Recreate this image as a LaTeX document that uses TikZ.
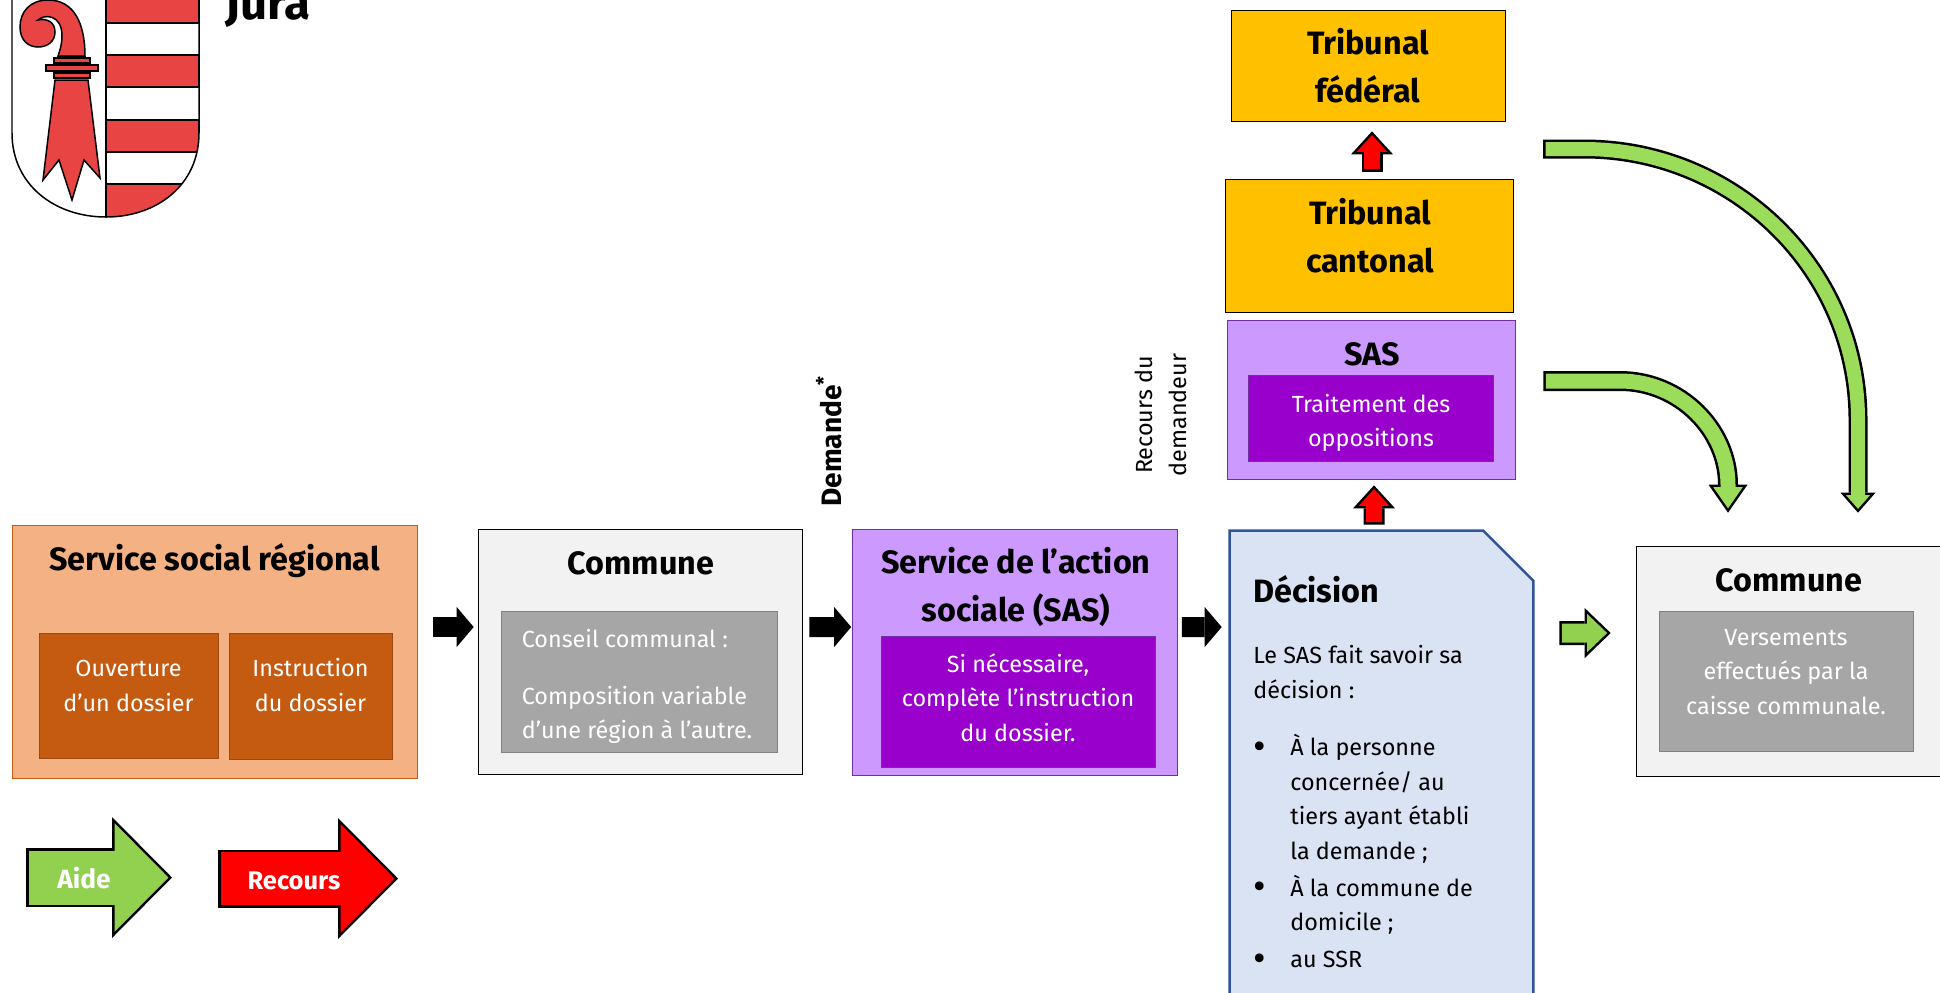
\documentclass[tikz,border=0pt]{standalone}
\usepackage{fontspec}
\setmainfont{Fira Sans}
\usetikzlibrary{arrows.meta}
\usetikzlibrary{positioning}
\definecolor{ssrfill}{HTML}{F4B183}
\definecolor{ssrdark}{HTML}{C55A11}
\definecolor{ssrline}{HTML}{9E480E}
\definecolor{sasfill}{HTML}{CC99FF}
\definecolor{sasdark}{HTML}{9900CC}
\definecolor{sasline}{HTML}{7030A0}
\definecolor{decfill}{HTML}{DAE3F3}
\definecolor{decline}{HTML}{2F5597}
\definecolor{courtfill}{HTML}{FFC000}
\definecolor{aidefill}{HTML}{92D050}
\definecolor{bendfill}{HTML}{9BDC5A}
\definecolor{juraring}{HTML}{E94444}
\providecommand{\bodysize}{\fontsize{13.3}{19.65}\selectfont}
\providecommand{\headsize}{\fontsize{18.4}{27.3}\selectfont\bfseries}
\providecommand{\listdot}{\makebox[0.74cm][l]{\raisebox{-0.07cm}{\fontsize{22}{19}\selectfont\textbullet}}}
\providecommand{\apos}{\char39 }
% block arrow: colour, shaft, head length, head width, shorten start, shorten end, path
\newcommand{\outlinearrow}[7]{%
  \pgfmathsetmacro{\backtip}{0.05*sqrt(#3*#3+#4*#4/4)/(#4/2)}
  \pgfmathsetmacro{\innerlen}{#3-0.05-\backtip}
  \pgfmathsetmacro{\innerwid}{\innerlen*#4/#3}
  \pgfmathsetmacro{\innersha}{#2-0.1}
  \pgfmathsetmacro{\innerbeg}{#5+0.05}
  \pgfmathsetmacro{\innerend}{#6+\backtip}
  \draw[black,line width=#2cm,shorten <=#5cm,shorten >=#6cm,-{Triangle[length=#3cm,width=#4cm,line width=0pt]}] #7;
  \draw[#1,line width=\innersha cm,shorten <=\innerbeg cm,shorten >=\innerend cm,-{Triangle[length=\innerlen cm,width=\innerwid cm,line width=0pt]}] #7;
}
\begin{document}
\begin{tikzpicture}[x=0.02cm,y=-0.02cm,
    textbox/.style={font=\bodysize,align=center,inner sep=0pt},
    headtext/.style={font=\headsize,align=center,inner sep=0pt},
    bluntarrow/.style={black,line width=0.4cm,-{Triangle[length=0.34cm,width=0.8cm,line width=0pt]}}]
  \clip (0,0) rectangle (1940,992);

  % coat of arms
  \begin{scope}
    \clip (12,-5) -- (12,133) .. controls (12,185) and (55,217) .. (106,217) .. controls (157,217) and (199,185) .. (199,133) -- (199,-5) -- cycle;
    \filldraw[fill=juraring,draw=black,line width=0.04cm] (106,-9) rectangle (199,23);
    \filldraw[fill=juraring,draw=black,line width=0.04cm] (106,55) rectangle (199,87);
    \filldraw[fill=juraring,draw=black,line width=0.04cm] (106,120) rectangle (199,152);
    \filldraw[fill=juraring,draw=black,line width=0.04cm] (106,184) rectangle (199,225);
  \end{scope}
  \draw[line width=0.03cm] (12,-5) -- (12,133) .. controls (12,185) and (55,217) .. (106,217) .. controls (157,217) and (199,185) .. (199,133) -- (199,-5);
  \draw[line width=0.04cm] (106,-5) -- (106,217);
  \filldraw[fill=juraring,draw=black,line width=0.03cm] (85,56) .. controls (85,25) and (75,0) .. (48,0)
    .. controls (30,0) and (20,12) .. (20,27) .. controls (20,40) and (28,47) .. (38,47)
    .. controls (48,47) and (55,41) .. (55,32) .. controls (55,22) and (47,18) .. (38,20)
    .. controls (44,14) and (62,14) .. (62,36) .. controls (62,44) and (60,50) .. (58,56) -- cycle;
  \filldraw[fill=juraring,draw=black,line width=0.03cm] (54,58) rectangle (90,63);
  \filldraw[fill=juraring,draw=black,line width=0.03cm] (46,65) rectangle (98,71);
  \filldraw[fill=juraring,draw=black,line width=0.03cm] (54,73) rectangle (90,78);
  \filldraw[fill=juraring,draw=black,line width=0.03cm] (55,80) -- (88,80) -- (100,178) -- (84,160) -- (72,200) -- (59,160) -- (43,180) -- cycle;
  \node[font=\fontsize{27}{30}\selectfont\bfseries,inner sep=0pt,anchor=base west] (jura_lab) at (225,19) {Jura};

  % boxes
  \node[draw=ssrdark,fill=ssrfill,minimum width=8.1cm,minimum height=5.06cm] (ssr) at (214.5,651.5) {};
  \node[draw=ssrline,fill=ssrdark,minimum width=3.58cm,minimum height=2.5cm] (opening) at (128.5,695.5) {};
  \node[draw=ssrline,fill=ssrdark,minimum width=3.26cm,minimum height=2.52cm] (inquiry) at (310.5,696) {};
  \node[textbox,text=white] (opening_lab) at (128.5,686) {Ouverture\\d\apos un dossier};
  \node[textbox,text=white] (inquiry_lab) at (310.5,685) {Instruction\\du dossier};
  \node[headtext] (ssr_lab) at (214.5,561) {Service social régional};

  \node[draw,fill=black!5,minimum width=6.48cm,minimum height=4.9cm] (commune) at (640,651.5) {};
  \node[draw=black!50,fill=black!35,minimum width=5.52cm,minimum height=2.82cm] (council) at (639,681.5) {};
  \node[textbox,text=white,align=left] (council_lab) at (637,686.5)
    {Conseil communal :\\[0.44cm]Composition variable\\d\apos une région à l\apos autre.};
  \node[headtext] (commune_lab) at (641,563) {Commune};

  \node[draw=sasline,fill=sasfill,minimum width=6.5cm,minimum height=4.92cm] (sas) at (1015,652) {};
  \node[draw=sasline,fill=sasdark,minimum width=5.48cm,minimum height=2.62cm] (sasjob) at (1018,701.5) {};
  \node[textbox,text=white] (sasjob_lab) at (1018,697.5) {Si nécessaire,\\complète l\apos instruction\\du dossier.};
  \node[headtext] (sas_lab) at (1016,587) {Service de l\apos action\\sociale (SAS)};

  \node[minimum width=6.06cm,minimum height=11.36cm] (decision) at (1381.5,815) {};
  \filldraw[draw=decline,line width=0.05cm,fill=decfill] (decision.south west) -- (decision.north west) -- ([xshift=-1cm]decision.north east)
    -- ([yshift=-1cm]decision.north east) -- (decision.south east) -- cycle;
  \node[headtext,anchor=west] (decision_lab) at (1253,589) {Décision};
  \node[textbox,align=left,anchor=north west] (decision_txt) at (1253,645) {Le SAS fait savoir sa\\décision :\\[0.46cm]%
    \listdot À la personne\\\hspace*{0.74cm}concernée/ au\\\hspace*{0.74cm}tiers ayant établi\\\hspace*{0.74cm}la demande ;\\[0.05cm]%
    \listdot À la commune de\\\hspace*{0.74cm}domicile ;\\[0.05cm]\listdot au SSR};

  \node[draw,fill=black!5,minimum width=6.08cm,minimum height=4.6cm] (communeb) at (1788,661) {};
  \node[draw=black!50,fill=black!35,minimum width=5.08cm,minimum height=2.8cm] (payment) at (1786,681) {};
  \node[textbox,text=white] (payment_lab) at (1786,672) {Versements\\effectués par la\\caisse communale.};
  \node[headtext] (communeb_lab) at (1789,580) {Commune};

  \node[draw=sasline,fill=sasfill,minimum width=5.76cm,minimum height=3.18cm] (sasappeal) at (1371,399.5) {};
  \node[draw=sasline,fill=sasdark,minimum width=4.9cm,minimum height=1.72cm] (opposition) at (1370.5,418) {};
  \node[textbox,text=white] (opposition_lab) at (1371,423) {Traitement des\\oppositions};
  \node[headtext] (sasappeal_lab) at (1372,354) {SAS};

  \node[draw,fill=courtfill,minimum width=5.76cm,minimum height=2.66cm] (cantonal) at (1369,245.5) {};
  \node[headtext] (cantonal_lab) at (1370,236) {Tribunal\\cantonal};
  \node[draw,fill=courtfill,minimum width=5.48cm,minimum height=2.22cm,headtext] (federal) at (1368,65.5) {Tribunal\\fédéral};

  % side texts
  \node[font=\fontsize{16}{19.4}\selectfont\bfseries,rotate=90,inner sep=0pt,anchor=west] (request_lab) at (829,507) {Demande\textsuperscript{*}};
  \node[textbox,rotate=90] (appeal_lab) at (1161,415) {Recours du\\demandeur};

  % flows
  \draw[bluntarrow,shorten <=0.32cm,shorten >=0.08cm] ([yshift=0.49cm]ssr.east) -- ([yshift=0.49cm]commune.west);
  \draw[bluntarrow,shorten <=0.14cm,shorten >=0.02cm] ([yshift=0.49cm]commune.east) -- ([yshift=0.5cm]sas.west);
  \draw[bluntarrow,shorten <=0.08cm,shorten >=0.16cm] ([yshift=0.5cm]sas.east) -- ([yshift=3.76cm]decision.west);
  \outlinearrow{aidefill}{0.48}{0.52}{1.0}{0.52}{0.5}{([yshift=3.64cm]decision.east) -- ([yshift=0.56cm]communeb.west)}

  \outlinearrow{red}{0.42}{0.46}{0.84}{0.14}{0.2}{([xshift=0.06cm]cantonal.north) -- ([xshift=0.08cm]federal.south)}
  \outlinearrow{red}{0.42}{0.46}{0.84}{0.12}{0.12}{([xshift=-0.15cm]decision.north) -- ([xshift=0.06cm]sasappeal.south)}

  \coordinate (courtout) at (1543,149);
  \outlinearrow{bendfill}{0.38}{0.4}{0.7}{0}{0.66}{(courtout) -- (1584,149) .. controls (1735,149) and (1858,270) .. (1858,420) -- ([xshift=1.4cm]communeb.north)}
  \outlinearrow{bendfill}{0.4}{0.56}{0.78}{0.56}{0.66}{([yshift=0.37cm]sasappeal.east) -- (1620,381) .. controls (1680,381) and (1728,430) .. (1728,485) -- ([xshift=-1.2cm]communeb.north)}

  % legend
  \coordinate (aidefrom) at (26,877.5);
  \coordinate (aideto) at (172,877.5);
  \outlinearrow{aidefill}{1.18}{1.2}{2.42}{0}{0}{(aidefrom) -- (aideto)}
  \node[font=\fontsize{15}{18}\selectfont\bfseries,text=white,inner sep=0pt] (aide_lab) at (84,878) {Aide};
  \coordinate (recoursfrom) at (218,878.5);
  \coordinate (recoursto) at (398,878.5);
  \outlinearrow{red}{1.16}{1.2}{2.42}{0}{0}{(recoursfrom) -- (recoursto)}
  \node[font=\fontsize{14.5}{18}\selectfont\bfseries,text=white,inner sep=0pt] (recours_lab) at (294,881) {Recours};
\end{tikzpicture}
\end{document}
